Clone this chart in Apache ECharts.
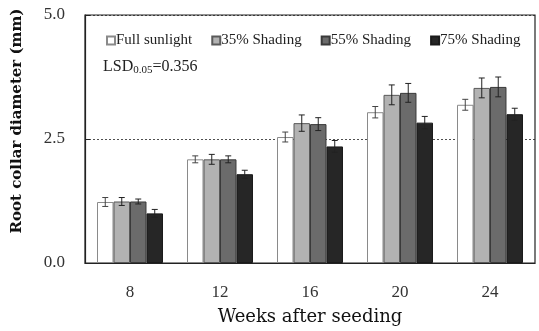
<!DOCTYPE html>
<html>
<head>
<meta charset="utf-8">
<script src="https://cdn.jsdelivr.net/npm/echarts@6/dist/echarts.min.js"></script>
<style>html,body{margin:0;padding:0;background:#fff}#chart{width:539px;height:331px}</style>
</head>
<body>
<div id="chart"></div>
<script>
const weeks = ['8', '12', '16', '20', '24'];
const fullSun = [1.23, 2.09, 2.54, 3.04, 3.19];
const shade35 = [1.24, 2.09, 2.82, 3.39, 3.53];
const shade55 = [1.24, 2.09, 2.80, 3.43, 3.55];
const shade75 = [1.00, 1.79, 2.35, 2.83, 3.00];
const fullSunErr = [0.09, 0.07, 0.10, 0.115, 0.11];
const shade35Err = [0.08, 0.10, 0.165, 0.20, 0.20];
const shade55Err = [0.05, 0.07, 0.13, 0.19, 0.20];
const shade75Err = [0.08, 0.08, 0.12, 0.125, 0.12];
const yTicks = [0, 2.5, 5];

const chart = echarts.init(document.getElementById('chart'));
const serif = '"Liberation Serif", "DejaVu Serif", serif';
const wideSerif = '"DejaVu Serif", serif';
const catGap = 0.267;

const groups = [
  { name: 'Full sunlight', data: fullSun, err: fullSunErr, color: '#ffffff', border: '#8a8a8a' },
  { name: '35% Shading', data: shade35, err: shade35Err, color: '#b2b2b2', border: '#5a5a5a' },
  { name: '55% Shading', data: shade55, err: shade55Err, color: '#6b6b6b', border: '#3a3a3a' },
  { name: '75% Shading', data: shade75, err: shade75Err, color: '#262626', border: '#1a1a1a' }
];

const barSeries = groups.map(g => ({
  name: g.name,
  type: 'bar',
  data: g.data,
  barGap: '0%',
  barCategoryGap: (catGap * 100) + '%',
  itemStyle: { color: g.color, borderColor: g.border, borderWidth: 1 },
  z: 2
}));

// error bars drawn on top of each bar
const errSeries = groups.map((g, gi) => ({
  name: g.name + ' err',
  type: 'custom',
  data: g.data.map((v, i) => [i, v - g.err[i], v + g.err[i]]),
  z: 5,
  silent: true,
  renderItem: (params, api) => {
    const band = api.size([1, 0])[0];
    const bw = band * (1 - catGap) / 4;
    const off = (gi - 1.5) * bw;
    const lo = api.coord([api.value(0), api.value(1)]);
    const hi = api.coord([api.value(0), api.value(2)]);
    const x = lo[0] + off;
    const cap = 3;
    const style = { stroke: gi === 0 ? '#444' : '#222', lineWidth: 1 };
    return {
      type: 'group',
      children: [
        { type: 'line', shape: { x1: x, y1: lo[1], x2: x, y2: hi[1] }, style },
        { type: 'line', shape: { x1: x - cap, y1: lo[1], x2: x + cap, y2: lo[1] }, style },
        { type: 'line', shape: { x1: x - cap, y1: hi[1], x2: x + cap, y2: hi[1] }, style }
      ]
    };
  }
}));

chart.setOption({
  animation: false,
  grid: { left: 85, right: 4, top: 15, bottom: 65, show: true, borderColor: '#222', borderWidth: 1.2, backgroundColor: 'transparent' },
  legend: {
    data: groups.map(g => g.name),
    left: 101,
    top: 28,
    icon: 'rect',
    itemWidth: 8,
    itemHeight: 8,
    itemGap: 19,
    textStyle: { fontFamily: serif, fontSize: 15, color: '#222', padding: [0, 0, 0, -4] }
  },
  title: {
    text: 'LSD{sub|0.05}=0.356',
    left: 98,
    top: 52,
    textStyle: {
      fontFamily: serif, fontSize: 16, fontWeight: 'normal', color: '#222',
      rich: { sub: { fontFamily: serif, fontSize: 11, color: '#222', verticalAlign: 'bottom', padding: [8, 0, 0, 0] } }
    }
  },
  xAxis: {
    type: 'category',
    data: weeks,
    name: 'Weeks after seeding',
    nameLocation: 'middle',
    nameGap: 45,
    nameTextStyle: { fontFamily: wideSerif, fontSize: 18, color: '#111' },
    axisLine: { lineStyle: { color: '#222', width: 1.2 } },
    axisTick: { inside: true, length: 5, lineStyle: { color: '#222', width: 2 } },
    axisLabel: { fontFamily: serif, fontSize: 17, color: '#333', margin: 21 }
  },
  yAxis: {
    type: 'value',
    min: yTicks[0],
    max: yTicks[yTicks.length - 1],
    interval: 2.5,
    name: 'Root collar diameter (mm)',
    nameLocation: 'middle',
    nameGap: 60,
    nameTextStyle: { fontFamily: wideSerif, fontSize: 15, fontWeight: 'bold', color: '#111', padding: [0, 0, 0, 36] },
    axisLine: { show: true, lineStyle: { color: '#222', width: 1.2 } },
    axisTick: { show: true, inside: true, length: 5, lineStyle: { color: '#222' } },
    axisLabel: { fontFamily: serif, fontSize: 17, color: '#333', margin: 20, formatter: v => v.toFixed(1) },
    splitLine: { show: true, lineStyle: { color: '#222', type: [2, 2], width: 0.8 } }
  },
  series: [...barSeries, ...errSeries]
});
</script>
</body>
</html>
